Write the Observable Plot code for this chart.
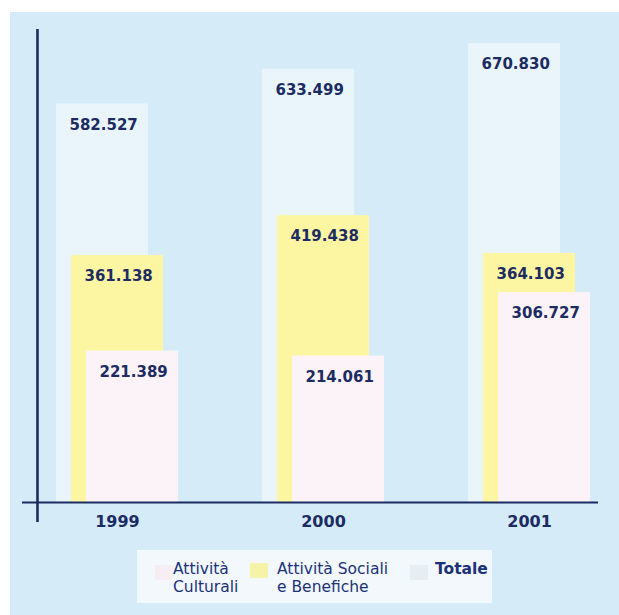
<!DOCTYPE html>
<html>
<head>
<meta charset="utf-8">
<script src="https://cdn.jsdelivr.net/npm/d3@7"></script>
<script src="https://cdn.jsdelivr.net/npm/@observablehq/plot@0.6"></script>
<style>
  html, body { margin: 0; padding: 0; background: #ffffff; }
  body { width: 619px; height: 615px; position: relative; overflow: hidden; font-family: "DejaVu Sans", sans-serif; }
  #panel { position: absolute; left: 10px; top: 12px; right: 0; bottom: 0; background: #d5ebf8; }
  #chart { position: absolute; left: 0; top: 0; }
  #legend { position: absolute; left: 137px; top: 550px; width: 355px; height: 53px; background: #f2f8fc; }
  .sw { position: absolute; width: 18px; height: 15px; }
  .lt { position: absolute; font-size: 15.5px; line-height: 18px; color: #1b3278; white-space: nowrap; }
</style>
</head>
<body>
<div id="panel"></div>
<div id="chart"></div>
<div id="legend"></div>
<script>
// ---- data ----
const years = ["1999", "2000", "2001"];
const culturali = [221389, 214061, 306727];
const sociali = [361138, 419438, 364103];
const totale = [582527, 633499, 670830];
const legendLabels = ["Attività\nCulturali", "Attività Sociali\ne Benefiche", "Totale"];

const colors = { totale: "#e9f5fb", sociali: "#fcf6a3", culturali: "#fcf3f8" };
const navy = "#1c2c62";

const fmt = d3.formatLocale({decimal: ",", thousands: ".", grouping: [3], currency: ["€", ""]}).format(",d");

const rows = (vals) => years.map((y, i) => ({year: y, value: vals[i]}));
const rT = rows(totale), rS = rows(sociali), rC = rows(culturali);

const plot = Plot.plot({
  width: 619,
  height: 540,
  marginTop: 30,
  marginBottom: 38,
  marginLeft: 22,
  marginRight: 21,
  style: { background: "transparent", fontFamily: "DejaVu Sans, sans-serif", overflow: "visible" },
  x: { type: "band", domain: years, range: [56, 590], paddingInner: 0.408, paddingOuter: 0, align: 0.5, axis: null, round: false },
  y: { domain: [0, 690000], axis: null },
  marks: [
    Plot.barY(rT, { x: "year", y: "value", fill: colors.totale, insetRight: 30 }),
    Plot.barY(rS, { x: "year", y: "value", fill: colors.sociali, insetLeft: 15, insetRight: 15 }),
    Plot.barY(rC, { x: "year", y: "value", fill: colors.culturali, insetLeft: 30 }),
    Plot.text(rT, { x: "year", y: "value", text: d => fmt(d.value), textAnchor: "start", lineAnchor: "top", dx: -48, dy: 15, fill: navy, fontSize: 15, fontWeight: "bold" }),
    Plot.text(rS, { x: "year", y: "value", text: d => fmt(d.value), textAnchor: "start", lineAnchor: "top", dx: -33, dy: 15, fill: navy, fontSize: 15, fontWeight: "bold" }),
    Plot.text(rC, { x: "year", y: "value", text: d => fmt(d.value), textAnchor: "start", lineAnchor: "top", dx: -18, dy: 15, fill: navy, fontSize: 15, fontWeight: "bold" }),
    Plot.ruleY([0], { stroke: navy, strokeWidth: 2.2 }),
    Plot.ruleX(["1999"], { dx: -80, stroke: navy, strokeWidth: 2.6, insetTop: -1, insetBottom: -20 }),
    Plot.text(years, { x: d => d, frameAnchor: "bottom", lineAnchor: "top", dy: 13, text: d => d, fill: navy, fontSize: 16, fontWeight: "bold" })
  ]
});
document.getElementById("chart").appendChild(plot);

// ---- legend ----
const legend = document.getElementById("legend");
const items = [
  { color: "#f7eef4", sw: [18, 15], tx: 36, bold: false },
  { color: "#f6f2a8", sw: [113, 13], tx: 140, bold: false },
  { color: "#e6eef4", sw: [273, 15], tx: 298, bold: true }
];
items.forEach((it, i) => {
  const s = document.createElement("div");
  s.className = "sw";
  s.style.left = it.sw[0] + "px";
  s.style.top = it.sw[1] + "px";
  s.style.background = it.color;
  legend.appendChild(s);
  const t = document.createElement("div");
  t.className = "lt";
  t.style.left = it.tx + "px";
  t.style.top = "10px";
  if (it.bold) t.style.fontWeight = "bold";
  t.innerHTML = legendLabels[i].split("\n").join("<br>");
  legend.appendChild(t);
});
</script>
</body>
</html>
